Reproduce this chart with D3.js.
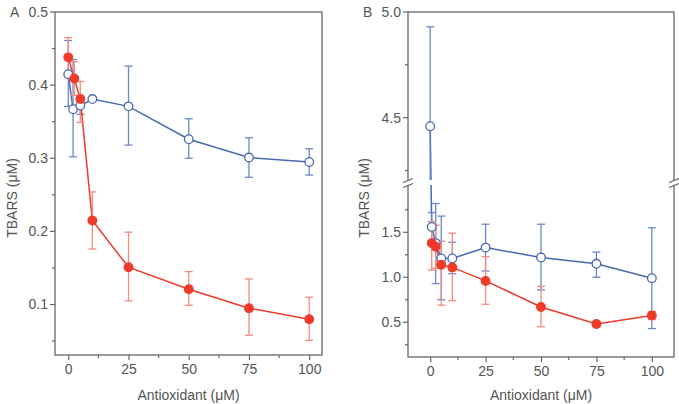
<!DOCTYPE html>
<html>
<head>
<meta charset="utf-8">
<script src="https://cdn.jsdelivr.net/npm/d3@7"></script>
<style>
  body { margin: 0; background: #fff; }
  svg text { font-family: "Liberation Sans", Arial, sans-serif; fill: #555; }
</style>
</head>
<body>
<div id="chart-area"></div>
<script>
// panel A data
let doseA_blue = [0, 2, 5, 10, 25, 50, 75, 100];
let tbarsA_blue = [0.415, 0.367, 0.372, 0.381, 0.371, 0.326, 0.301, 0.295];
let hiA_blue = [0.461, 0.435, 0.385, 0.384, 0.426, 0.354, 0.328, 0.313];
let loA_blue = [0.371, 0.302, 0.360, 0.378, 0.318, 0.300, 0.274, 0.277];

let doseA_red = [0, 2.5, 5, 10, 25, 50, 75, 100];
let tbarsA_red = [0.438, 0.409, 0.381, 0.215, 0.151, 0.121, 0.095, 0.080];
let hiA_red = [0.465, 0.432, 0.405, 0.254, 0.199, 0.145, 0.135, 0.110];
let loA_red = [0.412, 0.386, 0.349, 0.176, 0.105, 0.099, 0.058, 0.051];

// panel B data
let doseB_blue = [0, 0.7, 2.5, 5, 10, 25, 50, 75, 100];
let tbarsB_blue = [4.46, 1.56, 1.38, 1.21, 1.21, 1.33, 1.22, 1.15, 0.99];
let hiB_blue = [4.93, 1.72, 1.82, 1.68, 1.39, 1.59, 1.59, 1.28, 1.55];
let loB_blue = [4.0, 1.40, 0.93, 0.75, 1.04, 1.07, 0.86, 1.00, 0.43];

let doseB_red = [0.7, 2.5, 5, 10, 25, 50, 75, 100];
let tbarsB_red = [1.38, 1.34, 1.14, 1.11, 0.96, 0.67, 0.48, 0.575];
let hiB_red = [1.62, 1.58, 1.40, 1.49, 1.23, 0.90, 0.51, 0.62];
let loB_red = [1.08, 1.10, 0.69, 0.74, 0.70, 0.45, 0.45, 0.53];

let xTicks = [0, 25, 50, 75, 100];
let xMinor = [12.5, 37.5, 62.5, 87.5];
let yTicksA = [0.1, 0.2, 0.3, 0.4, 0.5];
let yMinorA = [0.05, 0.15, 0.25, 0.35, 0.45];
let yTicksB_low = [0.5, 1.0, 1.5];
let yMinorB_low = [0.25, 0.75, 1.25, 1.75];
let yTicksB_up = [4.5, 5.0];
let yMinorB_up = [4.25, 4.75];

const BLUE = "#4a68b2", BLUE_ERR = "#6d88c6";
const RED = "#ef3a2b", RED_ERR = "#f48a80";
const AXIS = "#666";

let svg = d3.select("#chart-area").append("svg")
  .attr("width", 679)
  .attr("height", 404);

function seriesOf(dose, vals, hi, lo) {
  return dose.map((d, i) => ({x: d, y: vals[i], hi: hi[i], lo: lo[i]}));
}

// draw one panel; y is a function value -> pixel
function drawPanel(p) {
  let g = svg.append("g");
  let x = p.x, y = p.y;

  // frame
  g.append("rect")
    .attr("x", p.left).attr("y", p.top)
    .attr("width", p.right - p.left).attr("height", p.bottom - p.top)
    .attr("fill", "none").attr("stroke", AXIS).attr("stroke-width", 1.3);

  // x axis ticks
  let xAxis = d3.axisBottom(x).tickValues(xTicks).tickSize(5).tickPadding(4).tickSizeOuter(0);
  let xg = g.append("g").attr("transform", "translate(0," + p.bottom + ")").call(xAxis);
  xg.select(".domain").remove();
  xg.selectAll("line").attr("stroke", AXIS).attr("stroke-width", 1.2);
  xg.selectAll("text").style("font-size", "14px").style("font-family", "Liberation Sans, Arial, sans-serif").attr("fill", "#555");
  g.selectAll(".xminor").data(xMinor).enter().append("line")
    .attr("x1", d => x(d)).attr("x2", d => x(d))
    .attr("y1", p.bottom).attr("y2", p.bottom + 3)
    .attr("stroke", AXIS).attr("stroke-width", 1.2);

  // y ticks
  p.yMajor.forEach(t => {
    g.append("line").attr("x1", p.left - 5).attr("x2", p.left)
      .attr("y1", y(t)).attr("y2", y(t)).attr("stroke", AXIS).attr("stroke-width", 1.2);
    g.append("text").attr("x", p.left - 7).attr("y", y(t)).attr("dy", "0.35em")
      .attr("text-anchor", "end").style("font-size", "14px").text(t.toFixed(1));
  });
  p.yMinor.forEach(t => {
    g.append("line").attr("x1", p.left - 3).attr("x2", p.left)
      .attr("y1", y(t)).attr("y2", y(t)).attr("stroke", AXIS).attr("stroke-width", 1.2);
  });

  // labels
  g.append("text").attr("x", p.left - 45).attr("y", p.top + 5)
    .style("font-size", "14px").text(p.letter);
  g.append("text").attr("x", (p.left + p.right) / 2).attr("y", 400)
    .attr("text-anchor", "middle").style("font-size", "14px").text("Antioxidant (\u03bcM)");
  g.append("text")
    .attr("transform", "translate(" + p.yLabelX + "," + p.yLabelY + ") rotate(-90)")
    .attr("text-anchor", "middle").style("font-size", "14px").text("TBARS (\u03bcM)");

  // series
  p.series.forEach(s => {
    let line = d3.line().x(d => x(d.x)).y(d => y(d.y));
    g.append("path").datum(s.data).attr("d", line)
      .attr("fill", "none").attr("stroke", s.color).attr("stroke-width", 1.5);

    let eb = g.append("g");
    s.data.forEach(d => {
      eb.append("line").attr("x1", x(d.x)).attr("x2", x(d.x))
        .attr("y1", y(d.hi)).attr("y2", y(d.lo))
        .attr("stroke", s.errColor).attr("stroke-width", 1.3);
      [d.hi, d.lo].forEach(v => {
        if (p.breakY && Math.abs(y(v) - p.breakY) < 0.5) return;
        eb.append("line").attr("x1", x(d.x) - 4).attr("x2", x(d.x) + 4)
          .attr("y1", y(v)).attr("y2", y(v))
          .attr("stroke", s.errColor).attr("stroke-width", 1.3);
      });
    });
  });

  // gap across the broken axis
  if (p.breakY) {
    g.append("rect").attr("x", p.left - 3).attr("y", p.breakY - 3)
      .attr("width", p.right - p.left + 6).attr("height", 5).attr("fill", "#fff");
    [p.left, p.right].forEach(bx => {
      [-2.5, 2.5].forEach(off => {
        g.append("line")
          .attr("x1", bx - 5).attr("y1", p.breakY + off + 2)
          .attr("x2", bx + 5).attr("y2", p.breakY + off - 2)
          .attr("stroke", AXIS).attr("stroke-width", 1.2);
      });
    });
  }

  p.series.forEach(s => {
    g.selectAll(null).data(s.data).enter().append("circle")
      .attr("cx", d => x(d.x)).attr("cy", d => y(d.y)).attr("r", 4.3)
      .attr("fill", s.filled ? s.color : "#fff")
      .attr("stroke", s.color).attr("stroke-width", 1.3);
  });
}

// panel A
let xA = d3.scaleLinear().domain([-5.5, 105.3]).range([55, 322]);
let yA = d3.scaleLinear().domain([0.031, 0.5]).range([355, 12]);
drawPanel({
  letter: "A", left: 55, right: 322, top: 12, bottom: 355,
  x: xA, y: v => yA(v),
  yMajor: yTicksA, yMinor: yMinorA,
  yLabelX: 17, yLabelY: 198,
  series: [
    {data: seriesOf(doseA_blue, tbarsA_blue, hiA_blue, loA_blue), color: BLUE, errColor: BLUE_ERR, filled: false},
    {data: seriesOf(doseA_red, tbarsA_red, hiA_red, loA_red), color: RED, errColor: RED_ERR, filled: true}
  ]
});

// panel B with broken y axis
let xB = d3.scaleLinear().domain([-10, 110]).range([408, 674]);
let yB_low = d3.scaleLinear().domain([0.114, 2.048]).range([357, 183]);
let yB_up = d3.scaleLinear().domain([4.191, 5.0]).range([183, 12]);
function yB(v) {
  if (v >= 4.191) return yB_up(v);
  if (v <= 2.048) return yB_low(v);
  return 183;
}
drawPanel({
  letter: "B", left: 408, right: 674, top: 12, bottom: 357,
  x: xB, y: yB, breakY: 183,
  yMajor: yTicksB_up.concat(yTicksB_low), yMinor: yMinorB_up.concat(yMinorB_low),
  yLabelX: 369, yLabelY: 198,
  series: [
    {data: seriesOf(doseB_blue, tbarsB_blue, hiB_blue, loB_blue), color: BLUE, errColor: BLUE_ERR, filled: false},
    {data: seriesOf(doseB_red, tbarsB_red, hiB_red, loB_red), color: RED, errColor: RED_ERR, filled: true}
  ]
});
</script>
</body>
</html>
